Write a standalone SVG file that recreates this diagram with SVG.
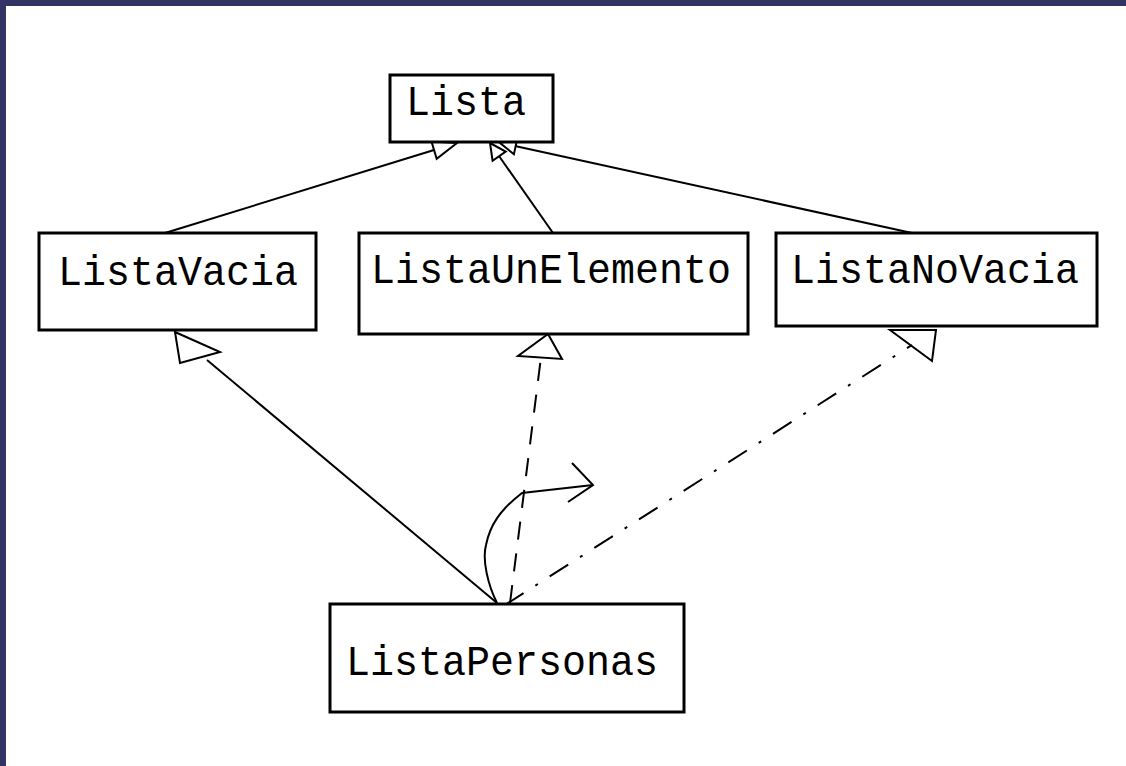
<svg xmlns="http://www.w3.org/2000/svg" width="1126" height="766" viewBox="0 0 1126 766">
<style>
.box{fill:#fff;stroke:#000;stroke-width:3}
.lbl{font-family:"Liberation Mono","Courier New",monospace;font-size:42px;fill:#000}
.ln{fill:none;stroke:#000;stroke-width:2}
.dash{stroke-dasharray:18 14}
.dashdot{stroke-dasharray:22 14 3 14}
</style>
<rect x="0" y="0" width="1126" height="766" fill="#fff"/>
<rect x="0" y="0" width="1126" height="6" fill="#333366"/>
<rect x="0" y="0" width="6" height="766" fill="#333366"/>
<g id="connectors">
  <line class="ln" x1="165" y1="233" x2="434" y2="150"/>
  <polygon class="ln" points="457,143 436.7,158.7 431.5,141.5"/>
  <line class="ln" x1="553" y1="233" x2="499" y2="156"/>
  <polygon class="ln" points="490,143 505.7,151.5 492.6,160.7"/>
  <line class="ln" x1="912" y1="233" x2="515" y2="146"/>
  <polygon class="ln" points="500,143 517.3,138.6 513.9,154.2"/>
  <line class="ln" x1="497" y1="603" x2="207" y2="360"/>
  <polygon class="ln" points="175,332 180,363 220,352"/>
  <line class="ln dash" x1="510" y1="603" x2="541" y2="357"/>
  <polygon class="ln" points="548,334 518,356 562,359"/>
  <line class="ln dashdot" x1="505" y1="605" x2="912" y2="345"/>
  <polygon class="ln" points="890,330 936,330 932,361"/>
  <path class="ln" d="M497,603 C488,585 482,560 486,545 C490,525 500,510 522,493 L593,485"/>
  <polyline class="ln" points="572,463 593,485 568,502"/>
</g>
<g id="Lista">
  <rect class="box" x="390" y="75" width="163" height="67"/>
  <text class="lbl" x="406" y="115" textLength="120" lengthAdjust="spacingAndGlyphs">Lista</text>
</g>
<g id="ListaVacia">
  <rect class="box" x="39" y="233" width="277" height="97"/>
  <text class="lbl" x="58" y="285" textLength="240" lengthAdjust="spacingAndGlyphs">ListaVacia</text>
</g>
<g id="ListaUnElemento">
  <rect class="box" x="359" y="233" width="389" height="101"/>
  <text class="lbl" x="371" y="283" textLength="360" lengthAdjust="spacingAndGlyphs">ListaUnElemento</text>
</g>
<g id="ListaNoVacia">
  <rect class="box" x="776" y="233" width="321" height="93"/>
  <text class="lbl" x="791" y="283" textLength="288" lengthAdjust="spacingAndGlyphs">ListaNoVacia</text>
</g>
<g id="ListaPersonas">
  <rect class="box" x="330" y="604" width="354" height="108"/>
  <text class="lbl" x="346" y="675" textLength="312" lengthAdjust="spacingAndGlyphs">ListaPersonas</text>
</g>
</svg>
